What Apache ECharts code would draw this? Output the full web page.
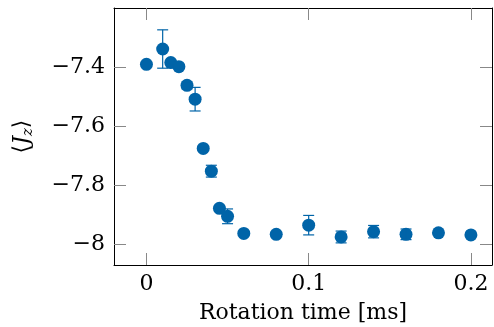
<!DOCTYPE html>
<html><head><meta charset="utf-8">
<script src="https://cdn.jsdelivr.net/npm/echarts@6/dist/echarts.min.js"></script>
<style>html,body{margin:0;padding:0;background:#fff}#c{width:494px;height:327px}</style>
</head><body><div id="c"></div>
<script>
const times = [0, 0.01, 0.015, 0.02, 0.025, 0.03, 0.035, 0.04, 0.045, 0.05, 0.06, 0.08, 0.1, 0.12, 0.14, 0.16, 0.18, 0.2];
const jz = [-7.391, -7.339, -7.385, -7.399, -7.462, -7.509, -7.676, -7.753, -7.879, -7.906, -7.964, -7.967, -7.936, -7.976, -7.958, -7.967, -7.962, -7.969];
const jzErr = [0, 0.065, 0, 0.004, 0.012, 0.04, 0.004, 0.02, 0.01, 0.025, 0, 0, 0.033, 0.02, 0.021, 0.018, 0, 0];
const xTicks = [0, 0.1, 0.2];
const yTicks = [-8, -7.8, -7.6, -7.4];

const FONT = 'DejaVu Serif';
const BLUE = '#0064a8';
const chart = echarts.init(document.getElementById('c'), null, {renderer: 'canvas'});
const fmtY = v => (v < 0 ? '\u2212' : '') + String(Math.abs(+v.toFixed(3)));
const fmtX = v => String(+v.toFixed(3));
const frame = {show: true, onZero: false, lineStyle: {color: '#000', width: 1}};
const tick = vals => ({show: true, inside: true, length: 12, customValues: vals, lineStyle: {color: '#888', width: 1}});

chart.setOption({
  animation: false,
  grid: {left: 114, right: 2, top: 8, bottom: 62, containLabel: false, outerBoundsMode: 'none'},
  xAxis: [{
    type: 'value', min: -0.02, max: 0.213, position: 'bottom',
    axisLine: frame, axisTick: tick(xTicks), splitLine: {show: false},
    axisLabel: {customValues: xTicks, formatter: fmtX, fontFamily: FONT, fontSize: 22, color: '#000', margin: 8},
    name: 'Rotation time [ms]', nameLocation: 'middle', nameGap: 37,
    nameTextStyle: {fontFamily: FONT, fontSize: 22, color: '#000'}
  }, {
    type: 'value', min: -0.02, max: 0.213, position: 'top',
    axisLine: frame, axisTick: tick(xTicks), splitLine: {show: false}, axisLabel: {show: false}
  }],
  yAxis: [{
    type: 'value', min: -8.071, max: -7.2, position: 'left',
    axisLine: frame, axisTick: tick(yTicks), splitLine: {show: false},
    axisLabel: {customValues: yTicks, formatter: fmtY, fontFamily: FONT, fontSize: 22, color: '#000', margin: 9},
    name: '{a|\u27E8}{j|J}{s|z}{a|\u27E9}', nameLocation: 'middle', nameGap: 78, nameRotate: 90,
    nameTextStyle: {
      color: '#000', fontFamily: FONT, fontSize: 22,
      rich: {
        a: {fontFamily: FONT, fontSize: 22, color: '#000'},
        j: {fontFamily: FONT, fontSize: 22, fontStyle: 'italic', color: '#000'},
        s: {fontFamily: FONT, fontSize: 15, fontStyle: 'italic', color: '#000', padding: [12, 0, 0, 0]}
      }
    }
  }, {
    type: 'value', min: -8.071, max: -7.2, position: 'right',
    axisLine: frame, axisTick: tick(yTicks), splitLine: {show: false}, axisLabel: {show: false}
  }],
  series: [{
    type: 'scatter', xAxisIndex: 0, yAxisIndex: 0,
    data: times.map((t, i) => [t, jz[i]]),
    symbol: 'circle', symbolSize: 13,
    itemStyle: {color: BLUE, opacity: 1}, z: 3
  }, {
    type: 'custom', xAxisIndex: 0, yAxisIndex: 0,
    data: times.map((t, i) => [t, jz[i], jzErr[i]]),
    encode: {x: 0, y: 1}, clip: false, z: 4,
    renderItem: function (params, api) {
      const x = api.value(0), y = api.value(1), e = api.value(2);
      if (!e) return null;
      const top = api.coord([x, y + e]);
      const bot = api.coord([x, y - e]);
      const w = 5.5;
      const st = {stroke: BLUE, lineWidth: 1.2};
      return {type: 'group', children: [
        {type: 'line', shape: {x1: top[0], y1: top[1], x2: bot[0], y2: bot[1]}, style: st},
        {type: 'line', shape: {x1: top[0] - w, y1: top[1], x2: top[0] + w, y2: top[1]}, style: st},
        {type: 'line', shape: {x1: bot[0] - w, y1: bot[1], x2: bot[0] + w, y2: bot[1]}, style: st}
      ]};
    }
  }]
});
</script></body></html>
